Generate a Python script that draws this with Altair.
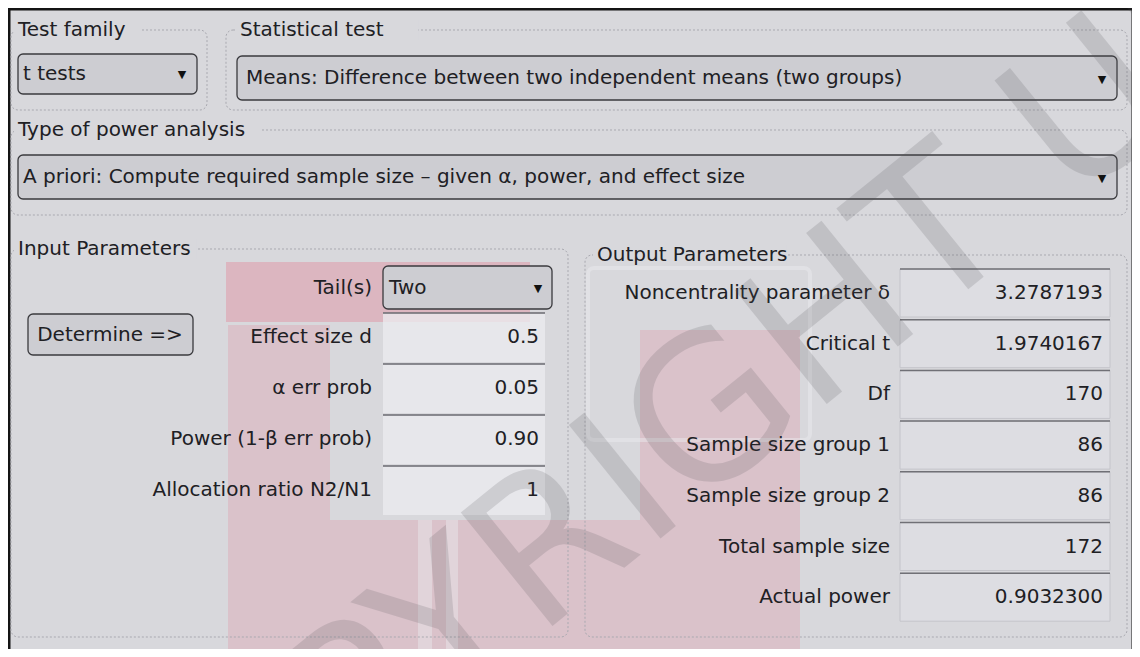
import altair as alt
import pandas as pd

# ------------------------------------------------------------------ data
group_titles = ["Test family", "Statistical test", "Type of power analysis",
                "Input Parameters", "Output Parameters"]
test_family = "t tests"
statistical_test = "Means: Difference between two independent means (two groups)"
analysis_type = "A priori: Compute required sample size – given α, power, and effect size"
tails_label = "Tail(s)"
tails_value = "Two"
button_label = "Determine =>"
input_labels = ["Effect size d", "α err prob", "Power (1-β err prob)", "Allocation ratio N2/N1"]
input_values = ["0.5", "0.05", "0.90", "1"]
output_labels = ["Noncentrality parameter δ", "Critical t", "Df", "Sample size group 1",
                 "Sample size group 2", "Total sample size", "Actual power"]
output_values = ["3.2787193", "1.9740167", "170", "86", "86", "172", "0.9032300"]
watermark_text = "COPYRIGHT UPM"

# ------------------------------------------------------------------ layout (pixels)
W, H = 1124, 641
X0, Y0 = 8, 8
FONT = "DejaVu Sans"
FS = 20
BG = "#d8d8dc"
TXT = "#202024"

XS = alt.Scale(domain=[X0, X0 + W], nice=False, zero=False)
YS = alt.Scale(domain=[Y0, Y0 + H], nice=False, zero=False, reverse=True)


def rects(rows, **kw):
    df = pd.DataFrame(rows, columns=["x1", "x2", "y1", "y2"])
    return alt.Chart(df).mark_rect(**kw).encode(
        x=alt.X("x1:Q", scale=XS, axis=None), x2="x2:Q",
        y=alt.Y("y1:Q", scale=YS, axis=None), y2="y2:Q")


def texts(rows, **kw):
    df = pd.DataFrame(rows, columns=["x", "y", "t"])
    base = dict(font=FONT, fontSize=FS, color=TXT, baseline="middle")
    base.update(kw)
    return alt.Chart(df).mark_text(**base).encode(
        x=alt.X("x:Q", scale=XS, axis=None),
        y=alt.Y("y:Q", scale=YS, axis=None), text="t:N")


def hlines(rows, **kw):
    df = pd.DataFrame(rows, columns=["x1", "x2", "y"])
    return alt.Chart(df).mark_rule(**kw).encode(
        x=alt.X("x1:Q", scale=XS, axis=None), x2="x2:Q",
        y=alt.Y("y:Q", scale=YS, axis=None))


layers = []

# dialog background + frame
layers.append(rects([(9, 1133, 9, 651)], fill=BG, stroke="#141414", strokeWidth=3))

# pink logo watermark (under widgets)
pink = "#e09aa9"
layers.append(rects([(226, 530, 262, 322)], fill=pink, opacity=0.55))
layers.append(rects([(228, 330, 325, 650), (640, 800, 330, 650), (330, 640, 520, 650)],
                    fill=pink, opacity=0.35))
layers.append(rects([(418, 432, 520, 650), (446, 458, 520, 650)], fill="#e6e0e4", opacity=0.6))
# light "book" outline behind output labels
layers.append(rects([(588, 810, 268, 440)], fillOpacity=0, stroke="#ececf0",
                    strokeWidth=4, opacity=0.45, cornerRadius=6))

# group boxes (dotted)
groups = [(11, 207, 30, 110), (226, 1127, 30, 110), (11, 1127, 130, 215),
          (11, 568, 249, 637), (585, 1127, 255, 637)]
layers.append(rects(groups, fillOpacity=0, stroke="#a9a9b0", strokeWidth=1,
                    strokeDash=[2, 2], cornerRadius=7))
title_pos = [(18, 30), (240, 30), (18, 130), (18, 249), (597, 255)]
masks = [(x - 4, x + len(t) * 10.9 + 4, y - 10, y + 10) for (x, y), t in zip(title_pos, group_titles)]
layers.append(rects(masks, fill=BG))
layers.append(texts([(x, y, t) for (x, y), t in zip(title_pos, group_titles)], align="left"))

# dropdowns and button
drops = [(18, 197, 54, 94), (237, 1117, 56, 100), (18, 1117, 155, 199), (383, 552, 266, 309)]
layers.append(rects(drops, fill="#cdcdd2", stroke="#3a3a3e", strokeWidth=1.3, cornerRadius=5))
layers.append(rects([(28, 193, 314, 355)], fill="#cdcdd2", stroke="#3a3a3e",
                    strokeWidth=1.3, cornerRadius=5))
layers.append(texts([(23, 74, test_family), (246, 78, statistical_test),
                     (23, 177, analysis_type), (389, 288, tails_value)], align="left"))
layers.append(texts([(182, 75, "▼"), (1102, 80, "▼"), (1102, 179, "▼"), (538, 289, "▼")],
                    fontSize=11, align="center", color="#111"))
layers.append(texts([(110, 335, button_label)], align="center"))

# input parameters
in_y = [337 + i * 51 for i in range(len(input_labels))]
layers.append(rects([(383, 545, y - 24, y + 25) for y in in_y], fill="#ececf0", opacity=0.75))
layers.append(hlines([(383, 545, y - 24) for y in in_y], color="#6a6a70", strokeWidth=1.5))
layers.append(texts([(372, 288, tails_label)] + [(372, y, t) for y, t in zip(in_y, input_labels)],
                    align="right"))
layers.append(texts([(539, y, v) for y, v in zip(in_y, input_values)], align="right"))

# output parameters
out_y = [293 + i * 50.7 for i in range(len(output_labels))]
layers.append(rects([(900, 1110, y - 24, y + 24) for y in out_y], fill="#dddde2",
                    stroke="#c4c4ca", strokeWidth=1))
layers.append(hlines([(900, 1110, y - 24) for y in out_y], color="#707076", strokeWidth=1.5))
layers.append(texts([(890, y, t) for y, t in zip(out_y, output_labels)], align="right"))
layers.append(texts([(1103, y, v) for y, v in zip(out_y, output_values)], align="right"))

# gray diagonal watermark
layers.append(texts([(730, 405, watermark_text)], fontSize=200, align="center",
                    angle=321, color="#505055", opacity=0.17))

chart = alt.layer(*layers).properties(
    width=W, height=H, padding=0, autosize=alt.AutoSizeParams(type="none"),
    background="white"
).configure_view(stroke=None, clip=True)

chart.save("out.html", embed_options={"renderer": "svg", "actions": False})
